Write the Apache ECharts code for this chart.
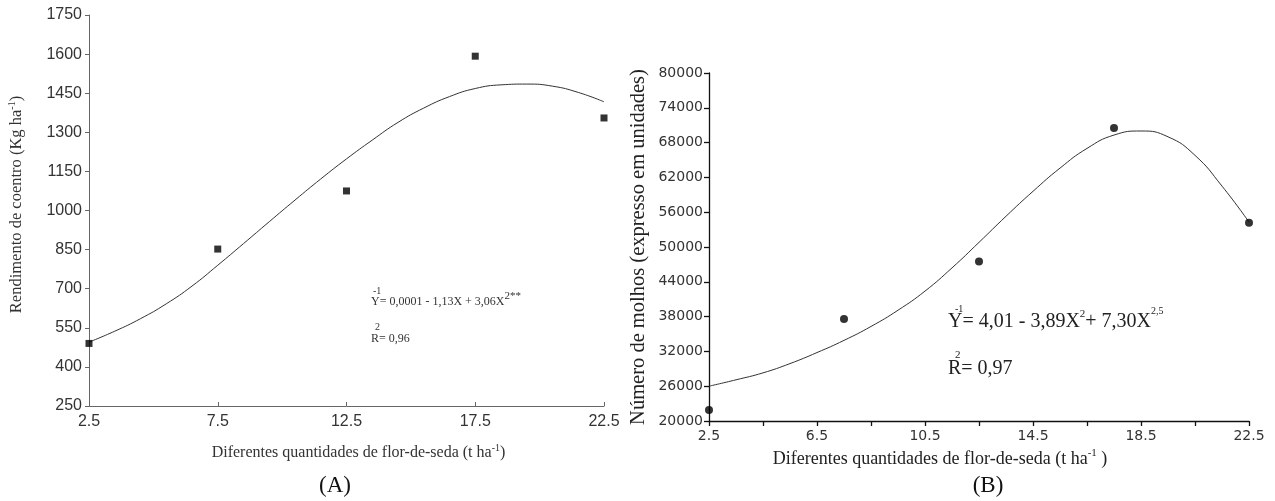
<!DOCTYPE html>
<html><head><meta charset="utf-8">
<script src="https://cdn.jsdelivr.net/npm/echarts@6/dist/echarts.min.js"></script>
<style>html,body{margin:0;padding:0;background:#fff}#c{width:1275px;height:501px}</style>
</head><body><div id="c"></div>
<script>
// ---- Chart A data ----
const xA = [2.5, 7.5, 12.5, 17.5, 22.5];
const yieldA = [490, 852, 1075, 1592, 1355];
const fitXA = [2.5,3.5,4.5,5.5,6.5,7.5,8.5,9.5,10.5,11.5,12.5,13.5,14.5,15.5,16.5,17.5,18.5,19.5,20.5,21.5,22.5];
const fitYA = [495,537,585,642,710,790,873,957,1040,1121,1198,1270,1338,1393,1437,1468,1482,1485,1477,1453,1417];
const yTicksA = [250,400,550,700,850,1000,1150,1300,1450,1600,1750];
const xTicksA = [2.5,7.5,12.5,17.5,22.5];

// ---- Chart B data ----
const xB = [2.5, 7.5, 12.5, 17.5, 22.5];
const bunchesB = [21900, 37600, 47500, 70500, 54200];
const fitXB = [2.5,3.5,4.5,5.5,6.5,7.5,8.5,9.5,10.5,11.5,12.5,13.5,14.5,15.5,16.5,17.5,18.5,19.5,20.5,21.5,22.5];
const fitYB = [26000,27100,28300,29900,31800,33900,36300,39100,42400,46400,50800,55300,59600,63600,67000,69300,70000,69000,65800,60500,54300];
const yTicksB = [20000,26000,32000,38000,44000,50000,56000,62000,68000,74000,80000];
const xLabelsB = [2.5,6.5,10.5,14.5,18.5,22.5];
const xTicksB = [2.5,4.5,6.5,8.5,10.5,12.5,14.5,16.5,18.5,20.5,22.5];

const serif = '"Liberation Serif","Times New Roman",serif';
const sans = '"Liberation Sans",Arial,sans-serif';
const dv = '"DejaVu Sans",Verdana,sans-serif';

function txt(x, y, text, size, opts) {
  opts = opts || {};
  return {
    type: 'text', x: x, y: y, z: 100,
    style: Object.assign({
      text: text, fontFamily: serif, fontSize: size, fill: '#222',
      align: 'left', verticalAlign: 'middle'
    }, opts)
  };
}

const chart = echarts.init(document.getElementById('c'));
const supA = {fontFamily: serif, fontSize: 10, color: '#333', padding: [0,0,10,0]};
const supB = {fontFamily: serif, fontSize: 11, color: '#222', padding: [0,0,12,0]};

chart.setOption({
  animation: false,
  backgroundColor: '#fff',
  grid: [
    {left: 89, top: 15, width: 515, height: 391},
    {left: 709, top: 73, width: 540, height: 348}
  ],
  xAxis: [
    {
      gridIndex: 0, type: 'value', min: 2.5, max: 22.5,
      axisLine: {lineStyle: {color: '#666', width: 1}},
      axisTick: {customValues: xTicksA, inside: true, length: 4, lineStyle: {color: '#666'}},
      axisLabel: {customValues: xTicksA, fontFamily: sans, fontSize: 16, color: '#333', margin: 8,
                  formatter: v => String(v)},
      splitLine: {show: false},
      name: 'Diferentes quantidades de flor-de-seda (t ha{s|-1})',
      nameLocation: 'middle', nameGap: 37,
      nameTextStyle: {fontFamily: serif, fontSize: 16, color: '#333', padding: [0, 0, 0, 24], rich: {s: supA}}
    },
    {
      gridIndex: 1, type: 'value', min: 2.5, max: 22.5,
      axisLine: {lineStyle: {color: '#111', width: 1.3}},
      axisTick: {customValues: xTicksB, inside: false, length: 5, lineStyle: {color: '#111', width: 1.3}},
      axisLabel: {customValues: xLabelsB, fontFamily: dv, fontSize: 14, color: '#333', margin: 8,
                  formatter: v => String(v)},
      splitLine: {show: false},
      name: 'Diferentes quantidades de flor-de-seda (t ha{s|-1} )',
      nameLocation: 'middle', nameGap: 26,
      nameTextStyle: {fontFamily: serif, fontSize: 18, color: '#222', padding: [0, 78, 0, 0], rich: {s: supB}}
    }
  ],
  yAxis: [
    {
      gridIndex: 0, type: 'value', min: 250, max: 1750,
      axisLine: {show: true, lineStyle: {color: '#666', width: 1}},
      axisTick: {show: true, customValues: yTicksA, length: 4, lineStyle: {color: '#666'}},
      axisLabel: {customValues: yTicksA, fontFamily: sans, fontSize: 16, color: '#333', margin: 7,
                  formatter: v => String(v)},
      splitLine: {show: false},
      name: 'Rendimento de coentro (Kg ha{s|-1})',
      nameLocation: 'middle', nameRotate: 90, nameGap: 62,
      nameTextStyle: {fontFamily: serif, fontSize: 16.5, color: '#333', padding: [0, 0, 0, 12], rich: {s: supA}}
    },
    {
      gridIndex: 1, type: 'value', min: 20000, max: 80000,
      axisLine: {show: true, lineStyle: {color: '#111', width: 1.3}},
      axisTick: {show: true, customValues: yTicksB, length: 5, lineStyle: {color: '#111', width: 1.3}},
      axisLabel: {customValues: yTicksB, fontFamily: dv, fontSize: 14, color: '#333', margin: 6,
                  formatter: v => String(v)},
      splitLine: {show: false},
      name: 'Número de molhos (expresso em unidades)',
      nameLocation: 'middle', nameRotate: 90, nameGap: 60,
      nameTextStyle: {fontFamily: serif, fontSize: 20.5, color: '#222'}
    }
  ],
  series: [
    {
      type: 'line', xAxisIndex: 0, yAxisIndex: 0, smooth: true, showSymbol: false, symbol: 'none',
      lineStyle: {color: '#333', width: 1}, z: 2,
      data: fitXA.map((x, i) => [x, fitYA[i]])
    },
    {
      type: 'scatter', xAxisIndex: 0, yAxisIndex: 0, symbol: 'rect', symbolSize: 7, clip: false,
      itemStyle: {color: '#000'}, z: 3,
      data: xA.map((x, i) => [x, yieldA[i]])
    },
    {
      type: 'line', xAxisIndex: 1, yAxisIndex: 1, smooth: true, showSymbol: false, symbol: 'none',
      lineStyle: {color: '#333', width: 1}, z: 2,
      data: fitXB.map((x, i) => [x, fitYB[i]])
    },
    {
      type: 'scatter', xAxisIndex: 1, yAxisIndex: 1, symbol: 'circle', symbolSize: 8, clip: false,
      itemStyle: {color: '#000'}, z: 3,
      data: xB.map((x, i) => [x, bunchesB[i]])
    }
  ],
  graphic: [
    txt(335, 486, '(A)', 23, {align: 'center', fill: '#111'}),
    txt(988, 486, '(B)', 23, {align: 'center', fill: '#111'}),
    // equation A
    txt(371, 302, 'Y= 0,0001 - 1,13X + 3,06X{s|2**}', 12, {fill: '#333', rich: {s: {fontFamily: serif, fontSize: 11, fill: '#333', padding: [0,0,12,0]}}}),
    txt(373, 291, '-1', 10, {fill: '#333'}),
    txt(371, 339, 'R= 0,96', 12, {fill: '#333'}),
    txt(375, 327, '2', 10, {fill: '#333'}),
    // equation B
    txt(948, 322, 'Y= 4,01 - 3,89X{s|2}+ 7,30X{t|2,5}', 20, {fill: '#222', rich: {
      s: {fontFamily: serif, fontSize: 11, fill: '#222', padding: [0,0,16,0]},
      t: {fontFamily: serif, fontSize: 10, fill: '#222', padding: [0,0,22,0]}
    }}),
    txt(955, 309, '-1', 10, {fill: '#222'}),
    txt(948, 369, 'R= 0,97', 20, {fill: '#222'}),
    txt(955, 355, '2', 11, {fill: '#222'})
  ]
});
</script>
</body></html>
